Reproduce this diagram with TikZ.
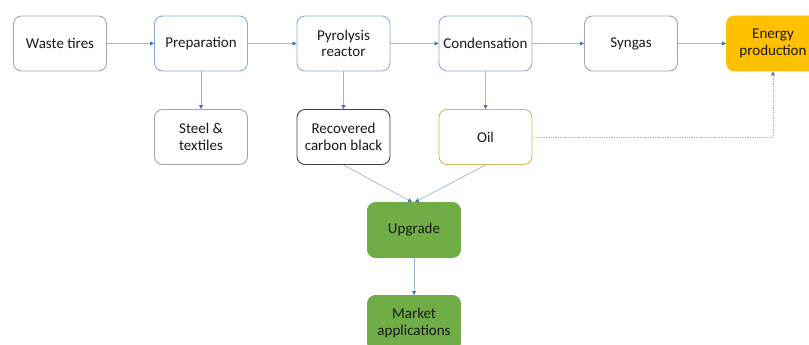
\documentclass[tikz,border=0pt]{standalone}
\usepackage{fontspec}
\setmainfont{Carlito}
\usetikzlibrary{arrows.meta}
\definecolor{arr}{HTML}{9DB5E3}
\definecolor{tip}{HTML}{4472C4}
\definecolor{bluebd}{HTML}{8FAADC}
\definecolor{graybd}{HTML}{A6A6A6}
\definecolor{darkbd}{HTML}{404040}
\definecolor{oilbd}{HTML}{D6B656}
\definecolor{orangef}{HTML}{FFC000}
\definecolor{greenf}{HTML}{70AD47}
\begin{document}
\begin{tikzpicture}[x=1pt,y=-1pt,
  box/.style={draw, rounded corners=8pt, minimum width=93pt, minimum height=55pt, line width=0.9pt, align=center, font=\fontsize{15}{16.5}\selectfont, text=black!90, inner sep=0pt},
  gbox/.style={box, draw=graybd},
  bbox/.style={box, draw=bluebd},
  conn/.style={draw=arr, line width=0.7pt, -{Triangle[length=4pt,width=4pt,color=tip]}},
  dconn/.style={conn, densely dotted}]
\useasboundingbox (0,0) rectangle (809,345);
\clip (0,0) rectangle (809,345);
\node[gbox] (waste) at (60,43.5) {Waste tires};
\node[bbox] (prep) at (201,43.5) {Preparation};
\node[bbox] (pyro) at (343.5,43.5) {Pyrolysis\\reactor};
\node[bbox] (cond) at (485.5,43.5) {Condensation};
\node[gbox] (syn) at (631,43.5) {Syngas};
\node[box, draw=orangef, fill=orangef] (energy) at (773,43.5) {Energy\\production};
\node[gbox] (steel) at (201,137) {Steel \&\\textiles};
\node[box, draw=darkbd] (rcb) at (343.5,137) {Recovered\\carbon black};
\node[box, draw=oilbd] (oil) at (485.5,137) {Oil};
\node[box, draw=greenf, fill=greenf] (up) at (414,230) {Upgrade};
\node[box, draw=greenf, fill=greenf] (mkt) at (414,323) {Market\\applications};
\draw[conn] (waste) -- (prep);
\draw[conn] (prep) -- (pyro);
\draw[conn] (pyro) -- (cond);
\draw[conn] (cond) -- (syn);
\draw[conn] (syn) -- (energy);
\draw[conn] (prep) -- (steel);
\draw[conn] (pyro) -- (rcb);
\draw[conn] (cond) -- (oil);
\draw[conn] (rcb.south) -- ([xshift=-2pt]up.north);
\draw[conn] (oil.south) -- ([xshift=1pt]up.north);
\draw[conn] (up) -- (mkt);
\draw[dconn] (oil.east) -| (energy.south);
\end{tikzpicture}
\end{document}
